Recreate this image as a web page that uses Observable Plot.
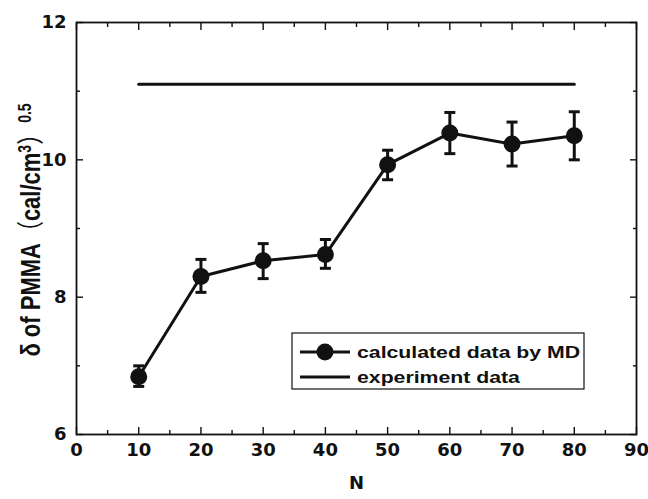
<!DOCTYPE html>
<html><head><meta charset="utf-8">
<script src="https://cdn.jsdelivr.net/npm/d3@7"></script>
<script src="https://cdn.jsdelivr.net/npm/@observablehq/plot@0.6"></script>
<style>
body{margin:0;background:#fff}
#chart{position:relative;width:648px;height:499px}
</style>
</head><body><div id="chart"></div>
<script>
// ---- data ----
const N = [10, 20, 30, 40, 50, 60, 70, 80];
const delta = [6.84, 8.30, 8.53, 8.62, 9.93, 10.39, 10.23, 10.35];
const errLow = [6.70, 8.07, 8.27, 8.42, 9.71, 10.09, 9.91, 10.00];
const errHigh = [7.00, 8.55, 8.78, 8.84, 10.14, 10.69, 10.55, 10.70];
const expN = [10, 80];
const expDelta = [11.1, 11.1];
const xTicks = [0, 10, 20, 30, 40, 50, 60, 70, 80, 90];
const xMinor = [5, 15, 25, 35, 45, 55, 65, 75, 85];
const yTicks = [6, 8, 10, 12];
const yMinor = [7, 9, 11];
const seriesLabels = ["calculated data by MD", "experiment data"];
const xLabel = "N";

const calc = N.map((n, i) => ({n, d: delta[i], lo: errLow[i], hi: errHigh[i]}));
const exp = expN.map((n, i) => ({n, d: expDelta[i]}));

const ink = "#111";
const fmt = d3.format("d");
const capSymbol = {draw(ctx) { ctx.moveTo(-5.5, 0); ctx.lineTo(5.5, 0); }};

const tickAxes = [];
for (const anchor of ["bottom", "top"]) {
  tickAxes.push(Plot.axisX({anchor, ticks: xTicks, tickSize: -7, tickFormat: () => "", label: null, stroke: ink, strokeWidth: 1.4}));
  tickAxes.push(Plot.axisX({anchor, ticks: xMinor, tickSize: -4, tickFormat: () => "", label: null, stroke: ink, strokeWidth: 1.4}));
}
for (const anchor of ["left", "right"]) {
  tickAxes.push(Plot.axisY({anchor, ticks: yTicks, tickSize: -7, tickFormat: () => "", label: null, stroke: ink, strokeWidth: 1.4}));
  tickAxes.push(Plot.axisY({anchor, ticks: yMinor, tickSize: -4, tickFormat: () => "", label: null, stroke: ink, strokeWidth: 1.4}));
}

const plot = Plot.plot({
  width: 648,
  height: 499,
  marginLeft: 76,
  marginRight: 12,
  marginTop: 22,
  marginBottom: 65,
  style: {fontFamily: "'DejaVu Sans', sans-serif", fontWeight: "bold", fontSize: "18px", color: ink, background: "#fff"},
  x: {domain: [0, 90], label: null},
  y: {domain: [6, 12], label: null},
  marks: [
    Plot.axisX({anchor: "bottom", ticks: xTicks, tickFormat: fmt, tickSize: 0, tickPadding: 9, fontSize: 18, label: xLabel, labelAnchor: "center", labelOffset: 54, labelArrow: "none", fill: ink}),
    Plot.axisY({anchor: "left", ticks: yTicks, tickFormat: fmt, tickSize: 0, tickPadding: 10, fontSize: 18, label: null, fill: ink}),
    ...tickAxes,
    Plot.line(exp, {x: "n", y: "d", stroke: ink, strokeWidth: 3}),
    Plot.ruleX(calc, {x: "n", y1: "lo", y2: "hi", stroke: ink, strokeWidth: 3}),
    Plot.dot(calc, {x: "n", y: "lo", symbol: capSymbol, stroke: ink, strokeWidth: 3, fill: "none"}),
    Plot.dot(calc, {x: "n", y: "hi", symbol: capSymbol, stroke: ink, strokeWidth: 3, fill: "none"}),
    Plot.line(calc, {x: "n", y: "d", stroke: ink, strokeWidth: 3}),
    Plot.dot(calc, {x: "n", y: "d", r: 8.5, fill: ink, stroke: "none"}),
    Plot.frame({stroke: ink, strokeWidth: 1.8})
  ]
});
document.getElementById("chart").appendChild(plot);

const svg = d3.select(plot);
svg.selectAll('g[aria-label$="tick label"], g[aria-label$="axis label"]')
  .attr("font-size", 18).attr("font-family", "DejaVu Sans").attr("font-weight", "bold");

// y-axis title with superscripts
const yt = svg.append("text")
  .attr("transform", "translate(40,230) rotate(-90) scale(1,1.25)")
  .attr("text-anchor", "middle")
  .attr("fill", ink)
  .style("font-family", "'Liberation Sans', Arial, sans-serif")
  .style("font-size", "22px")
  .style("font-weight", "bold");
yt.append("tspan").text("δ of PMMA");
yt.append("tspan").style("font-family", "'Noto Sans CJK SC'").style("font-weight", "normal").text("（");
yt.append("tspan").text("cal/cm");
yt.append("tspan").attr("baseline-shift", "super").style("font-size", "14px").text("3");
yt.append("tspan").style("font-family", "'Noto Sans CJK SC'").style("font-weight", "normal").text("）");
yt.append("tspan").attr("baseline-shift", "super").style("font-size", "14px").text("0.5");

// legend
const lg = svg.append("g").attr("transform", "translate(292,333)");
lg.append("rect").attr("width", 292).attr("height", 56).attr("fill", "#fff").attr("stroke", ink).attr("stroke-width", 1.2);
lg.append("line").attr("x1", 8).attr("x2", 58).attr("y1", 19).attr("y2", 19).attr("stroke", ink).attr("stroke-width", 3);
lg.append("circle").attr("cx", 33).attr("cy", 19).attr("r", 8.5).attr("fill", ink);
lg.append("line").attr("x1", 8).attr("x2", 58).attr("y1", 44).attr("y2", 44).attr("stroke", ink).attr("stroke-width", 3);
lg.selectAll("text.lab").data(seriesLabels).join("text").attr("class", "lab")
  .attr("transform", (d, i) => `translate(65,${19 + 25 * i}) scale(1.25,1)`)
  .attr("dy", "0.35em")
  .attr("text-anchor", "start")
  .attr("fill", ink)
  .style("font-family", "'Liberation Sans', Arial, sans-serif")
  .style("font-size", "17px").style("font-weight", "bold")
  .text(d => d);
</script>
</body></html>
